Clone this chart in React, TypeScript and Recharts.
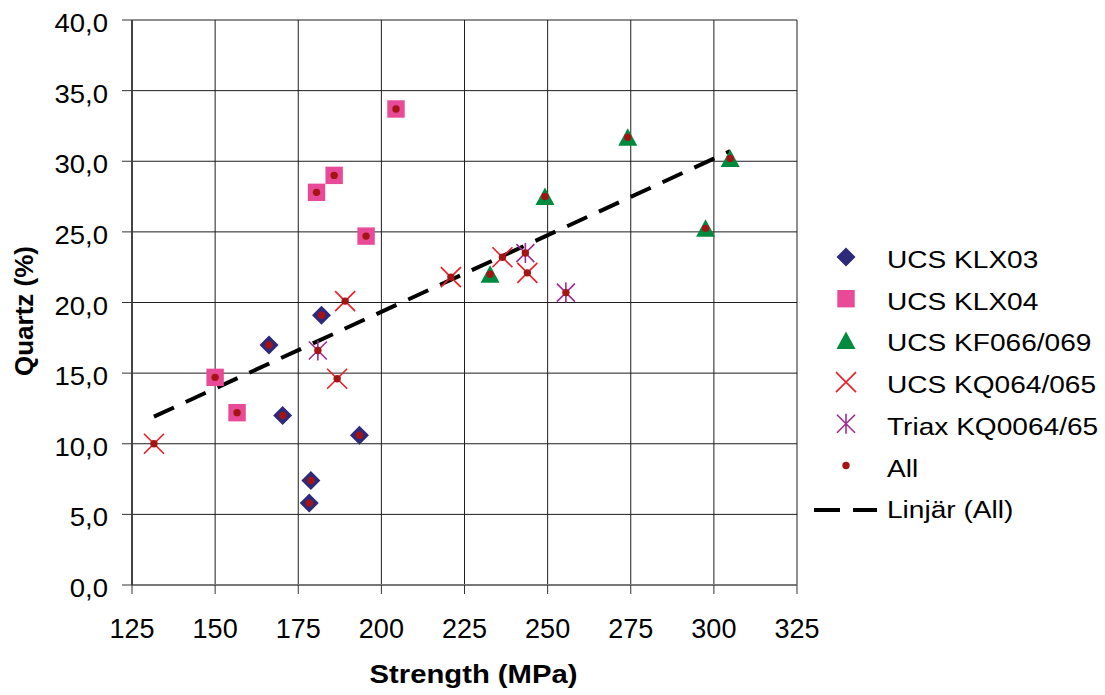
import React from 'react';
import {
  ScatterChart,
  Scatter,
  XAxis,
  YAxis,
  CartesianGrid,
  ReferenceLine,
  Label
} from 'recharts';

// values: [strength MPa, quartz %]
const ucsKlx03 = [[166.2, 17.0], [170.3, 12.0], [182.0, 19.1], [178.8, 7.4], [178.3, 5.8], [193.4, 10.6]];
const ucsKlx04 = [[150.0, 14.7], [156.6, 12.2], [180.5, 27.8], [185.8, 29.0], [195.4, 24.7], [204.4, 33.7]];
const ucsKf066 = [[232.7, 22.0], [249.2, 27.5], [274.1, 31.7], [297.5, 25.25], [304.9, 30.2]];
const ucsKq064 = [[131.6, 10.0], [189.1, 20.1], [186.7, 14.6], [220.9, 21.8], [236.4, 23.2], [243.9, 22.1]];
const triaxKq0064 = [[180.9, 16.6], [243.3, 23.5], [255.5, 20.7]];

const seriesNames = ['UCS KLX03', 'UCS KLX04', 'UCS KF066/069', 'UCS KQ064/065', 'Triax KQ0064/65', 'All'];
const trendName = 'Linjär (All)';

const xTicks = [125, 150, 175, 200, 225, 250, 275, 300, 325];
const yTicks = [0, 5, 10, 15, 20, 25, 30, 35, 40];

const FONT = '"Liberation Sans", Arial, sans-serif';

const toPoints = (arr: number[][]) => arr.map(([x, y]) => ({ x, y }));
const allPoints = toPoints([...ucsKlx03, ...ucsKlx04, ...ucsKf066, ...ucsKq064, ...triaxKq0064]);

// least squares fit for the trend line (like Excel's linear trendline)
const fit = (() => {
  const n = allPoints.length;
  const mx = allPoints.reduce((s, p) => s + p.x, 0) / n;
  const my = allPoints.reduce((s, p) => s + p.y, 0) / n;
  let sxy = 0;
  let sxx = 0;
  allPoints.forEach(p => {
    sxy += (p.x - mx) * (p.y - my);
    sxx += (p.x - mx) * (p.x - mx);
  });
  const slope = sxy / sxx;
  return { slope, icept: my - slope * mx };
})();
const xMin = Math.min(...allPoints.map(p => p.x));
const xMax = Math.max(...allPoints.map(p => p.x));
const trendSegment = [
  { x: xMin, y: fit.icept + fit.slope * xMin },
  { x: xMax, y: fit.icept + fit.slope * xMax }
];

const Diamond = ({ cx, cy }: any) => (
  <path d={`M${cx},${cy - 9.5}L${cx + 9.5},${cy}L${cx},${cy + 9.5}L${cx - 9.5},${cy}Z`} fill="#2E2A7A" />
);
const Square = ({ cx, cy }: any) => (
  <rect x={cx - 8.7} y={cy - 8.7} width={17.4} height={17.4} fill="#E84A97" />
);
const Triangle = ({ cx, cy }: any) => (
  <path d={`M${cx},${cy - 9}L${cx + 9.5},${cy + 8.5}L${cx - 9.5},${cy + 8.5}Z`} fill="#008A3E" />
);
const Cross = ({ cx, cy }: any) => (
  <path
    d={`M${cx - 10},${cy - 10}L${cx + 10},${cy + 10}M${cx + 10},${cy - 10}L${cx - 10},${cy + 10}`}
    stroke="#EE1C25"
    strokeWidth={1.6}
  />
);
const Star = ({ cx, cy }: any) => (
  <path
    d={`M${cx - 9},${cy - 9}L${cx + 9},${cy + 9}M${cx + 9},${cy - 9}L${cx - 9},${cy + 9}M${cx},${cy - 10}L${cx},${cy + 10}`}
    stroke="#9B2D8F"
    strokeWidth={1.6}
  />
);
const Dot = ({ cx, cy }: any) => <circle cx={cx} cy={cy} r={3.7} fill="#A31515" />;

const shapes = [Diamond, Square, Triangle, Cross, Star, Dot];

const YTick = ({ x, y, payload }: any) => (
  <text transform={`translate(${x},${y + 12}) scale(1.1,1)`} textAnchor="end" fontSize={25} fontFamily={FONT} fill="#000">
    {Number(payload.value).toFixed(1).replace('.', ',')}
  </text>
);

const XTick = ({ x, y, payload }: any) => (
  <text x={x} y={y + 42} textAnchor="middle" fontSize={27} fontFamily={FONT} fill="#000">
    {payload.value}
  </text>
);

const LegendBox = () => (
  <svg width={1105} height={695} style={{ position: 'absolute', left: 0, top: 0, pointerEvents: 'none' }}>
    {seriesNames.map((name, i) => {
      const base = 268 + i * 41.7;
      const Shape = shapes[i];
      return (
        <g key={name}>
          <Shape cx={846} cy={base - 11} />
          <text
            transform={`translate(887,${base}) scale(1.17,1)`}
            fontSize={24}
            fontFamily={FONT}
            fill="#000"
          >
            {name}
          </text>
        </g>
      );
    })}
    <line x1={814} x2={877} y1={510} y2={510} stroke="#000" strokeWidth={4} strokeDasharray="26 13" />
    <text transform={`translate(887,${268 + 6 * 41.7}) scale(1.17,1)`} fontSize={24} fontFamily={FONT} fill="#000">
      {trendName}
    </text>
  </svg>
);

export default function App() {
  const series = [ucsKlx03, ucsKlx04, ucsKf066, ucsKq064, triaxKq0064];
  return (
    <div style={{ position: 'relative', width: 1105, height: 695, background: '#fff' }}>
      <style>{'body{margin:0}'}</style>
      <ScatterChart width={1105} height={695} margin={{ top: 20, right: 308, bottom: 0, left: 0 }}>
        <CartesianGrid stroke="#1e1e1e" strokeWidth={1} />
        <XAxis
          type="number"
          dataKey="x"
          domain={[125, 325]}
          ticks={xTicks}
          interval={0}
          height={110}
          tickSize={9}
          tickLine={{ stroke: '#333' }}
          axisLine={{ stroke: '#777', strokeWidth: 2 }}
          tick={<XTick />}
        >
          <Label
            content={({ viewBox }: any) => {
              const vb = viewBox || { x: 132, y: 585, width: 665 };
              return (
                <text
                  transform={`translate(${vb.x + vb.width / 2 + 9},${vb.y + 98}) scale(1.17,1)`}
                  textAnchor="middle"
                  fontSize={25}
                  fontWeight="bold"
                  fontFamily={FONT}
                  fill="#000"
                >
                  Strength (MPa)
                </text>
              );
            }}
          />
        </XAxis>
        <YAxis
          type="number"
          dataKey="y"
          domain={[0, 40]}
          ticks={yTicks}
          interval={0}
          width={132}
          tickSize={10}
          tickMargin={14}
          tickLine={{ stroke: '#333' }}
          axisLine={{ stroke: '#444', strokeWidth: 2 }}
          tick={<YTick />}
        >
          <Label
            content={({ viewBox }: any) => {
              const vb = viewBox || { x: 0, y: 20, height: 565 };
              return (
                <text
                  transform={`translate(32.5,${vb.y + vb.height / 2 + 8.5}) rotate(-90)`}
                  textAnchor="middle"
                  fontSize={26}
                  fontWeight="bold"
                  fontFamily={FONT}
                  fill="#000"
                >
                  Quartz (%)
                </text>
              );
            }}
          />
        </YAxis>
        {series.map((s, i) => (
          <Scatter
            key={seriesNames[i]}
            name={seriesNames[i]}
            data={toPoints(s)}
            shape={shapes[i]}
            isAnimationActive={false}
          />
        ))}
        <ReferenceLine
          segment={trendSegment}
          stroke="#000"
          strokeWidth={4}
          strokeDasharray="22 13"
        />
        <Scatter name="All" data={allPoints} shape={Dot} isAnimationActive={false} />
      </ScatterChart>
      <LegendBox />
    </div>
  );
}
